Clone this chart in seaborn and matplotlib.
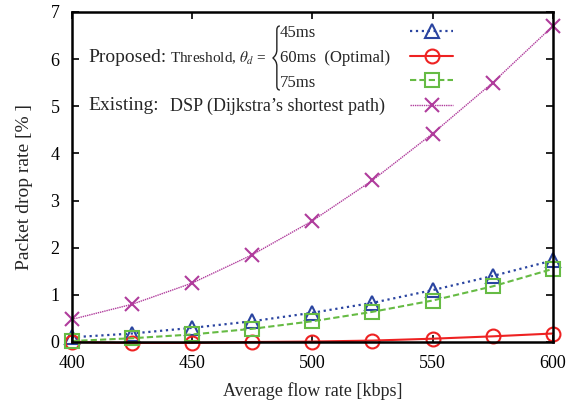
import matplotlib
matplotlib.use('Agg')
import matplotlib.pyplot as plt
from matplotlib.path import Path
from matplotlib.patches import PathPatch
import seaborn as sns
import pandas as pd

# ── data ────────────────────────────────────────────────────────────────────
flow_rate = [400, 425, 450, 475, 500, 525, 550, 575, 600]
drop_45ms = [0.10, 0.18, 0.30, 0.44, 0.62, 0.83, 1.10, 1.40, 1.73]
drop_60ms = [0.00, -0.02, -0.02, 0.00, 0.01, 0.03, 0.07, 0.12, 0.18]
drop_75ms = [0.02, 0.08, 0.16, 0.28, 0.44, 0.64, 0.88, 1.18, 1.55]
drop_dsp = [0.48, 0.80, 1.25, 1.85, 2.57, 3.43, 4.42, 5.50, 6.70]

sns.set_theme(style='ticks')
plt.rcParams['font.family'] = ['Liberation Serif', 'DejaVu Serif']
plt.rcParams['mathtext.fontset'] = 'stix'

fig = plt.figure(figsize=(5.8, 4.0), dpi=100)
ax = fig.add_axes([0.124, 0.145, 0.829, 0.825])

series = [
    (drop_45ms, '#2a44a0', ':', '^', 1.6),
    (drop_60ms, '#ee2222', '-', 'o', 1.5),
    (drop_75ms, '#66bb44', (0, (3, 1.5)), 's', 1.5),
    (drop_dsp, '#b03c9c', (0, (1, 0.6)), 'x', 1.0),
]
handles = []
for vals, col, ls, mk, lw in series:
    df = pd.DataFrame({'x': flow_rate, 'y': vals})
    sns.lineplot(data=df, x='x', y='y', ax=ax, color=col, linestyle=ls,
                 linewidth=lw, marker=mk, markersize=10,
                 markerfacecolor='none' if mk != 'x' else col,
                 markeredgecolor=col, markeredgewidth=1.5, clip_on=False)
    handles.append(ax.lines[-1])

ax.set_xlim(400, 600)
ax.set_ylim(0, 7)
ax.set_xticks([400, 450, 500, 550, 600])
ax.set_yticks(range(0, 8))
ax.set_xlabel('Average flow rate [kbps]', fontsize=13, labelpad=8)
ax.set_ylabel('Packet drop rate [% ]', fontsize=14)
ax.yaxis.set_label_coords(-0.08, 0.47)
ax.tick_params(direction='in', length=5, width=1.2, labelsize=13,
               top=True, right=True, color='black', labelcolor='black',
               pad=9)
for s in ax.spines.values():
    s.set_linewidth(1.8)
    s.set_color('black')
ax.grid(False)

# legend handles (no labels; text drawn separately)
leg = ax.legend(handles, ['', '', '', ''], loc='upper left',
                bbox_to_anchor=(0.703, 0.962), frameon=False,
                handlelength=2.4, handletextpad=0, labelspacing=0.42,
                fontsize=13, borderaxespad=0, borderpad=0)

# legend text block, positioned in reference pixels
tr = ax.transAxes
def px(x, y):
    return ((x - 72) / 481, (342 - y) / 330)

ax.text(*px(88, 58), 'Proposed:', transform=tr, fontsize=14, va='center')
ax.text(*px(170, 58), r'Threshold, $\theta_d$ =', transform=tr,
        fontsize=11, va='center')
ax.text(*px(280, 33), '45ms', transform=tr, fontsize=12, va='center')
ax.text(*px(280, 58), '60ms  (Optimal)', transform=tr, fontsize=12,
        va='center')
ax.text(*px(280, 83), '75ms', transform=tr, fontsize=12, va='center')
ax.text(*px(88, 106), 'Existing:', transform=tr, fontsize=14, va='center')
ax.text(*px(170, 106), 'DSP (Dijkstra\u2019s shortest path)', transform=tr,
        fontsize=13, va='center')

# curly brace
bx = [(280, 26), (277, 26), (277, 30), (277, 34),
      (277, 50), (277, 55), (273, 58),
      (277, 61), (277, 66), (277, 82),
      (277, 86), (277, 90), (280, 90)]
codes = [Path.MOVETO, Path.CURVE3, Path.CURVE3, Path.LINETO,
         Path.LINETO, Path.CURVE3, Path.CURVE3,
         Path.CURVE3, Path.CURVE3, Path.LINETO,
         Path.LINETO, Path.CURVE3, Path.CURVE3]
brace = PathPatch(Path([px(*p) for p in bx], codes), transform=tr,
                  fill=False, lw=1.0, edgecolor='#222222', clip_on=False)
ax.add_patch(brace)

fig.savefig('out.png', dpi=100)
